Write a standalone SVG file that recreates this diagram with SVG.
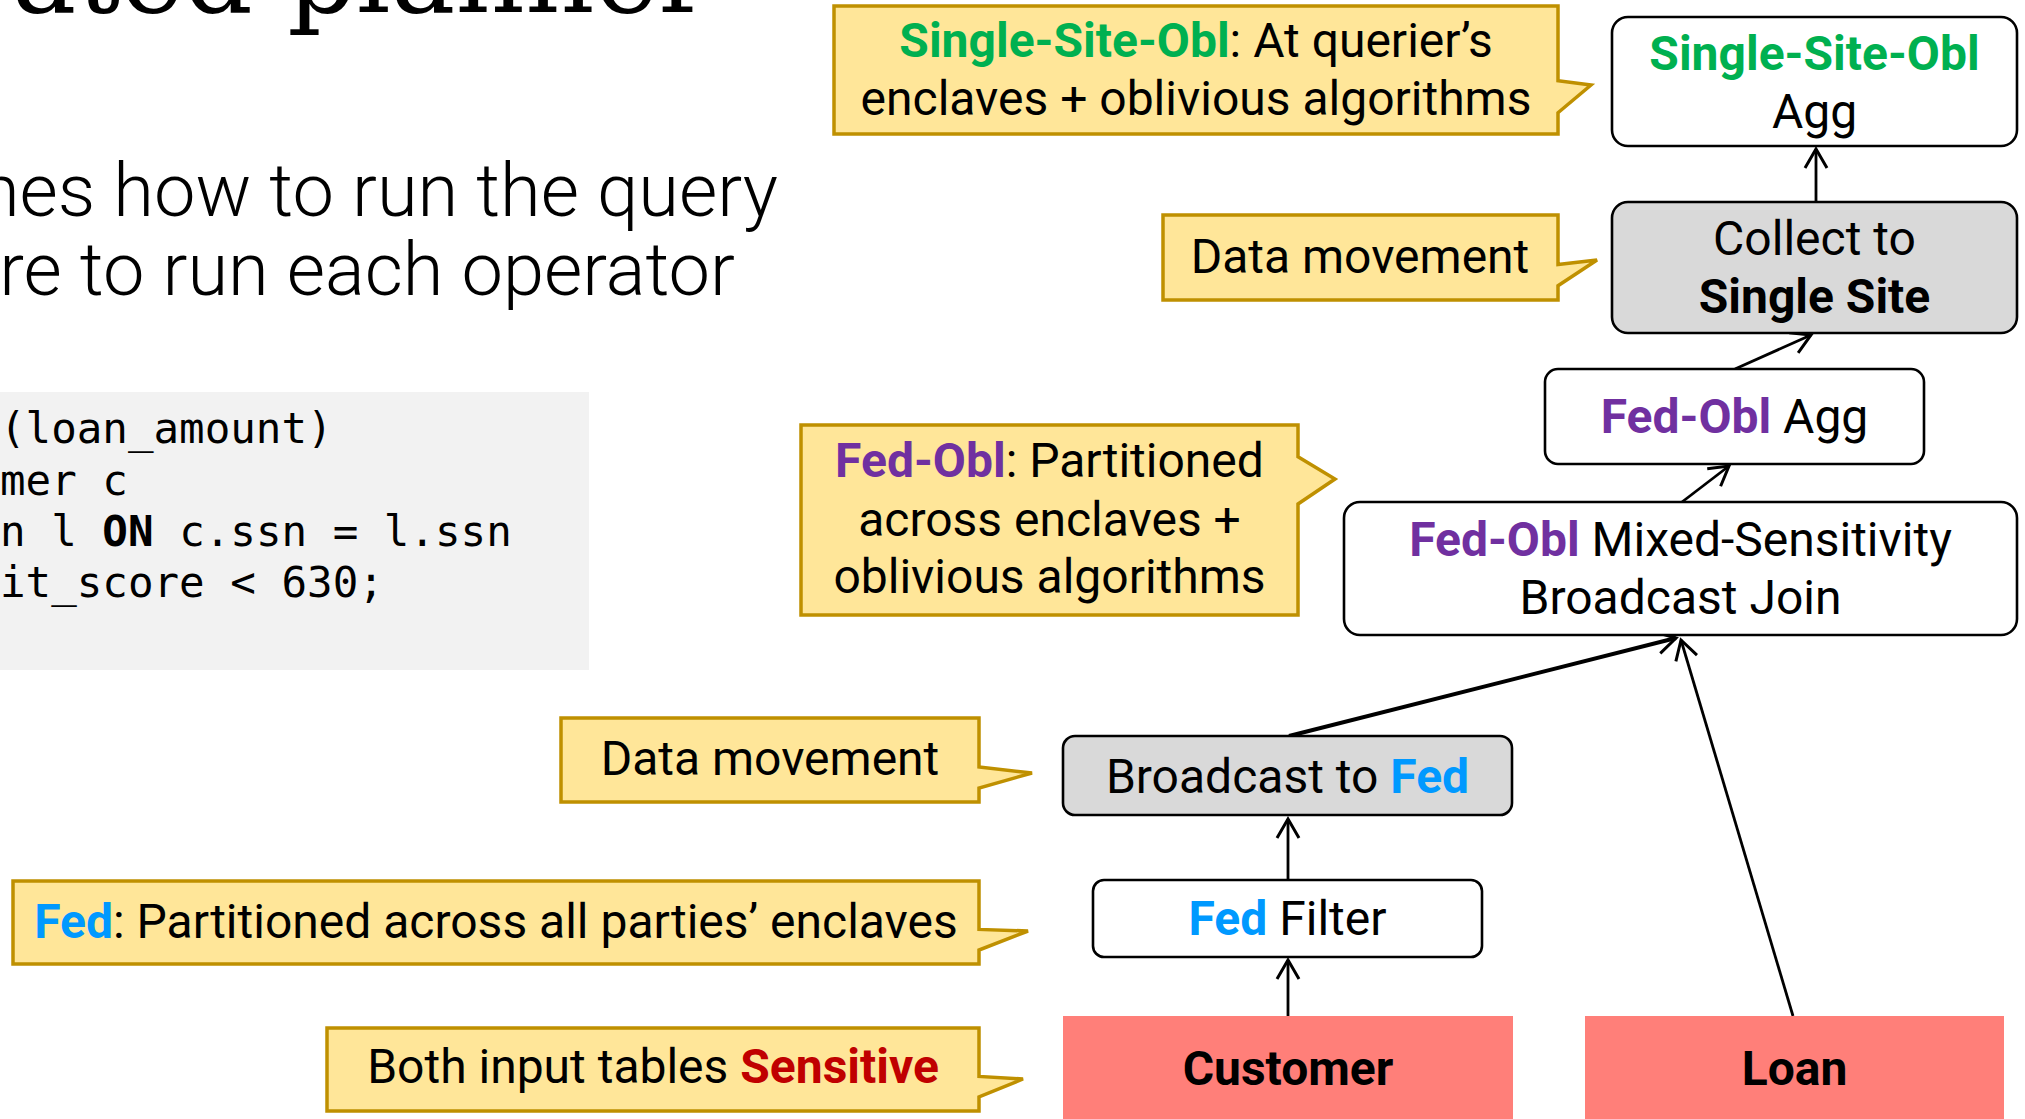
<svg xmlns="http://www.w3.org/2000/svg" width="2025" height="1119" viewBox="0 0 2025 1119">
  <style>
    .sans { font-family: Roboto, "Liberation Sans", sans-serif; font-size: 48px; fill: #000; }
    .mid { text-anchor: middle; }
    .b { font-weight: bold; }
    .green { fill: #00b050; font-weight: bold; }
    .purple { fill: #7030a0; font-weight: bold; }
    .blue { fill: #0099ff; font-weight: bold; }
    .red { fill: #c00000; font-weight: bold; }
    .op { fill: #ffffff; stroke: #000; stroke-width: 2.6; }
    .move { fill: #d9d9d9; stroke: #000; stroke-width: 2.6; }
    .table { fill: #ff7f79; stroke: none; }
    .note { fill: #ffe699; stroke: #bf9000; stroke-width: 3.5; stroke-linejoin: miter; }
    .edge { fill: none; stroke: #000; stroke-width: 2.8; }
    .code { font-family: "DejaVu Sans Mono", "Liberation Mono", monospace; font-size: 42.5px; fill: #000; }
    .sub { font-family: Roboto, "Liberation Sans", sans-serif; font-weight: 300; font-size: 74px; fill: #000; text-anchor: end; }
    .title { font-family: "DejaVu Serif", "Liberation Serif", serif; font-size: 108px; fill: #000; text-anchor: end; }
  </style>
  <defs>
    <marker id="arrow" markerUnits="userSpaceOnUse" markerWidth="30" markerHeight="30" viewBox="-24 -15 30 30" refX="0" refY="0" orient="auto">
      <path d="M-19,-11 L0,0 L-19,11" fill="none" stroke="#000" stroke-width="3"/>
    </marker>
  </defs>

  <rect width="2025" height="1119" fill="#ffffff"/>

  <!-- slide heading and text, partially off the left/top edge -->
  <g id="heading">
    <text class="title" x="710" y="12">rated planner</text>
    <text class="sub" x="778" y="216">nes how to run the query</text>
    <text class="sub" x="735" y="295">re to run each operator</text>
  </g>

  <!-- SQL query panel -->
  <g id="query">
    <rect x="-5" y="392" width="594" height="278" fill="#f2f2f2"/>
    <text class="code" x="0" y="443">(loan_amount)</text>
    <text class="code" x="0" y="495">mer c</text>
    <text class="code" x="0" y="546">n l <tspan font-weight="bold">ON</tspan> c.ssn = l.ssn</text>
    <text class="code" x="0" y="597">it_score &lt; 630;</text>
  </g>

  <!-- connectors -->
  <g id="connectors" class="edge">
    <line x1="1288" y1="1016" x2="1288" y2="960" marker-end="url(#arrow)"/>
    <line x1="1288" y1="880" x2="1288" y2="819" marker-end="url(#arrow)"/>
    <line x1="1289" y1="736" x2="1676" y2="638" stroke-width="4" marker-end="url(#arrow)"/>
    <line x1="1793" y1="1016" x2="1681" y2="640" marker-end="url(#arrow)"/>
    <line x1="1682" y1="502" x2="1729" y2="466" marker-end="url(#arrow)"/>
    <line x1="1735" y1="369" x2="1811" y2="335" marker-end="url(#arrow)"/>
    <line x1="1816" y1="202" x2="1816" y2="149" marker-end="url(#arrow)"/>
  </g>

  <!-- operator nodes -->
  <g id="node-agg">
    <rect class="op" x="1612" y="17" width="405" height="129" rx="16"/>
    <text class="sans mid" x="1814.5" y="70"><tspan class="green">Single-Site-Obl</tspan></text>
    <text class="sans mid" x="1814.5" y="128">Agg</text>
  </g>
  <g id="node-collect">
    <rect class="move" x="1612" y="202" width="405" height="131" rx="16"/>
    <text class="sans mid" x="1814.5" y="255">Collect to</text>
    <text class="sans mid b" x="1814.5" y="313">Single Site</text>
  </g>
  <g id="node-fed-agg">
    <rect class="op" x="1545" y="369" width="379" height="95" rx="13"/>
    <text class="sans mid" x="1734.5" y="433"><tspan class="purple">Fed-Obl</tspan> Agg</text>
  </g>
  <g id="node-join">
    <rect class="op" x="1344" y="502" width="673" height="133" rx="16"/>
    <text class="sans mid" x="1680.5" y="556"><tspan class="purple">Fed-Obl</tspan> Mixed-Sensitivity</text>
    <text class="sans mid" x="1680.5" y="614">Broadcast Join</text>
  </g>
  <g id="node-broadcast">
    <rect class="move" x="1063" y="736" width="449" height="79" rx="12"/>
    <text class="sans mid" x="1287.5" y="793">Broadcast to <tspan class="blue">Fed</tspan></text>
  </g>
  <g id="node-filter">
    <rect class="op" x="1093" y="880" width="389" height="77" rx="11"/>
    <text class="sans mid" x="1287.5" y="935"><tspan class="blue">Fed</tspan> Filter</text>
  </g>
  <g id="node-customer">
    <rect class="table" x="1063" y="1016" width="450" height="110"/>
    <text class="sans mid b" x="1288" y="1085">Customer</text>
  </g>
  <g id="node-loan">
    <rect class="table" x="1585" y="1016" width="419" height="110"/>
    <text class="sans mid b" x="1794.5" y="1085">Loan</text>
  </g>

  <!-- callout notes -->
  <g id="note-single-site">
    <path class="note" d="M834,6 H1558 V80.7 L1591,85 L1558,112.7 V134 H834 Z"/>
    <text class="sans mid" x="1196" y="57"><tspan class="green">Single-Site-Obl</tspan>: At querier’s</text>
    <text class="sans mid" x="1196" y="115">enclaves + oblivious algorithms</text>
  </g>
  <g id="note-collect">
    <path class="note" d="M1163,215 H1558 V264.6 L1597,260 L1558,285.8 V300 H1163 Z"/>
    <text class="sans mid" x="1360" y="273">Data movement</text>
  </g>
  <g id="note-fed-obl">
    <path class="note" d="M801,425 H1298 V456.7 L1335,479 L1298,504 V615 H801 Z"/>
    <text class="sans mid" x="1049.5" y="477"><tspan class="purple">Fed-Obl</tspan>: Partitioned</text>
    <text class="sans mid" x="1049.5" y="536">across enclaves +</text>
    <text class="sans mid" x="1049.5" y="593">oblivious algorithms</text>
  </g>
  <g id="note-broadcast">
    <path class="note" d="M561,718 H979 V767 L1032,773 L979,788 V802 H561 Z"/>
    <text class="sans mid" x="770" y="775">Data movement</text>
  </g>
  <g id="note-fed">
    <path class="note" d="M13,881 H979 V929.4 L1028,931 L979,950 V964 H13 Z"/>
    <text class="sans mid" x="496" y="938"><tspan class="blue">Fed</tspan>: Partitioned across all parties’ enclaves</text>
  </g>
  <g id="note-sensitive">
    <path class="note" d="M327,1028 H979 V1076.4 L1023,1079 L979,1097 V1111 H327 Z"/>
    <text class="sans mid" x="653" y="1083">Both input tables <tspan class="red">Sensitive</tspan></text>
  </g>
</svg>
